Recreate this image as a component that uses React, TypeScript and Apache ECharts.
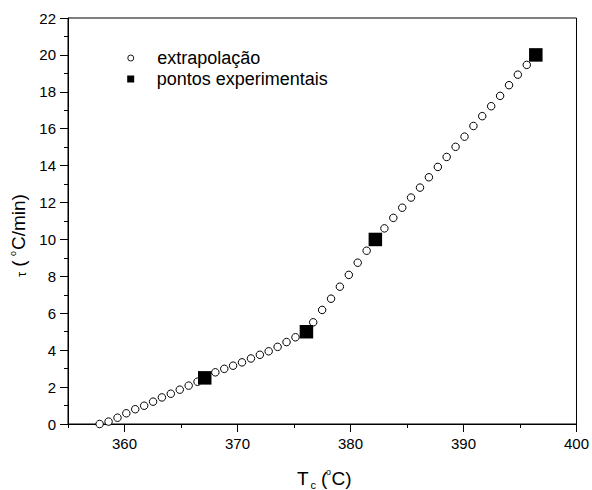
import { useEffect, useRef } from "react";
import * as echarts from "echarts";

// Extrapolated curve (°C, °C/min)
const extrapT = [
  357.8, 358.59, 359.38, 360.16, 360.95, 361.74, 362.53, 363.31, 364.1, 364.89,
  365.68, 366.46, 367.25, 368.04, 368.83, 369.61, 370.4, 371.19, 371.98, 372.76,
  373.55, 374.34, 375.13, 375.91, 376.7, 377.49, 378.28, 379.06, 379.85, 380.64,
  381.43, 382.21, 383.0, 383.79, 384.58, 385.36, 386.15, 386.94, 387.73, 388.51,
  389.3, 390.09, 390.88, 391.66, 392.45, 393.24, 394.03, 394.81, 395.6,
];
const extrapTau = [
  0.0, 0.13, 0.34, 0.58, 0.8, 0.99, 1.21, 1.44, 1.64, 1.86,
  2.08, 2.29, 2.5, 2.8, 2.99, 3.16, 3.34, 3.55, 3.75, 3.94,
  4.18, 4.44, 4.7, 4.92, 5.51, 6.18, 6.79, 7.44, 8.08, 8.74,
  9.39, 10.0, 10.6, 11.17, 11.72, 12.27, 12.81, 13.37, 13.93, 14.47,
  15.02, 15.57, 16.15, 16.68, 17.22, 17.78, 18.36, 18.93, 19.46,
];

// Measured points
const expT = [367.1, 376.1, 382.2, 396.4];
const expTau = [2.5, 5, 10, 20];

// Axis ticks
const xLabelTicks = [360, 370, 380, 390, 400];
const xShortTicks = [355, 365, 375, 385, 395];

const seriesNames = ["extrapolação", "pontos experimentais"];

const FONT = "'Liberation Sans', Arial, Helvetica, sans-serif";

// Legend icons as paths so that they keep their aspect ratio
const ICON_CIRCLE = "path://M1,0.5A0.5,0.5,0,1,1,0,0.5A0.5,0.5,0,1,1,1,0.5Z";
const ICON_SQUARE = "path://M0,0L1,0L1,1L0,1Z";

export default function App() {
  const ref = useRef<HTMLDivElement>(null);

  useEffect(() => {
    const chart = echarts.init(ref.current!, null, { renderer: "svg" });

    const titleText = (text: string, x: number, y: number, size: number) => ({
      type: "text",
      x,
      y,
      style: {
        text,
        fill: "#000",
        font: `${size}px ${FONT}`,
        textAlign: "left",
        textVerticalAlign: "middle",
        verticalAlign: "middle",
      },
    });

    const legendBase = {
      orient: "vertical",
      padding: 0,
      selectedMode: false,
      symbolKeepAspect: true,
    };

    chart.setOption({
      animation: false,
      backgroundColor: "#fff",
      textStyle: { fontFamily: FONT, color: "#000" },
      grid: {
        left: 68,
        right: 13,
        top: 18,
        bottom: 66,
        show: true,
        borderColor: "#000",
        borderWidth: 1,
        backgroundColor: "transparent",
      },
      legend: [
        {
          ...legendBase,
          left: 127.3,
          top: 49,
          itemWidth: 6,
          itemHeight: 6,
          itemStyle: { color: "#fff", borderColor: "#000", borderWidth: 0.9 },
          textStyle: { fontSize: 18, color: "#000", fontFamily: FONT, padding: [0, 0, 0, 18.4] },
          data: [{ name: seriesNames[0], icon: ICON_CIRCLE }],
        },
        {
          ...legendBase,
          left: 127.2,
          top: 70,
          itemWidth: 7,
          itemHeight: 7,
          textStyle: { fontSize: 18, color: "#000", fontFamily: FONT, padding: [0, 0, 0, 17.5] },
          data: [{ name: seriesNames[1], icon: ICON_SQUARE }],
        },
      ],
      xAxis: [
        {
          type: "value",
          min: 355,
          max: 400,
          interval: 5,
          axisLine: { show: true, onZero: false, lineStyle: { color: "#000", width: 1 } },
          axisTick: {
            show: true,
            length: 8,
            customValues: xLabelTicks,
            lineStyle: { color: "#000", width: 1 },
          },
          axisLabel: {
            customValues: xLabelTicks,
            fontSize: 15,
            color: "#000",
            margin: 12,
            fontFamily: FONT,
          },
          splitLine: { show: false },
        },
        {
          type: "value",
          min: 355,
          max: 400,
          interval: 5,
          position: "bottom",
          axisLine: { show: false },
          axisTick: {
            show: true,
            length: 4,
            customValues: xShortTicks,
            lineStyle: { color: "#000", width: 1 },
          },
          axisLabel: { show: false },
          splitLine: { show: false },
        },
      ],
      yAxis: {
        type: "value",
        min: 0,
        max: 22,
        interval: 2,
        axisLine: { show: true, onZero: false, lineStyle: { color: "#000", width: 1 } },
        axisTick: { show: true, length: 8, lineStyle: { color: "#000", width: 1 } },
        minorTick: { show: true, splitNumber: 2, length: 4, lineStyle: { color: "#000", width: 1 } },
        axisLabel: { fontSize: 15, color: "#000", margin: 12, fontFamily: FONT },
        splitLine: { show: false },
        minorSplitLine: { show: false },
      },
      series: [
        {
          name: seriesNames[0],
          type: "scatter",
          xAxisIndex: 0,
          symbol: "circle",
          symbolSize: 7.5,
          itemStyle: { color: "#fff", borderColor: "#000", borderWidth: 1, opacity: 1 },
          data: extrapT.map((t, i) => [t, extrapTau[i]]),
          z: 2,
        },
        {
          name: seriesNames[1],
          type: "scatter",
          xAxisIndex: 0,
          symbol: "rect",
          symbolSize: 13.5,
          itemStyle: { color: "#000", opacity: 1 },
          data: expT.map((t, i) => [t, expTau[i]]),
          z: 3,
        },
      ],
      graphic: [
        // x-axis title: T_c (°C)
        titleText("T", 297, 478, 19),
        titleText("c", 310.5, 484.5, 11),
        titleText("(", 321, 478, 19),
        titleText("o", 326, 472, 9),
        titleText("C)", 331.5, 478, 19),
        // y-axis title: τ (°C/min), reading bottom to top
        {
          type: "group",
          x: 18,
          y: 277,
          rotation: Math.PI / 2,
          children: [
            titleText("τ", 0, 3, 13),
            titleText("(", 10.3, 0, 19),
            titleText("o", 21, -5.5, 9),
            titleText("C/min)", 27, 0, 19),
          ],
        },
      ],
    });

    return () => chart.dispose();
  }, []);

  return (
    <div
      ref={ref}
      style={{ position: "fixed", left: 0, top: 0, width: 592, height: 490, background: "#fff" }}
    />
  );
}
